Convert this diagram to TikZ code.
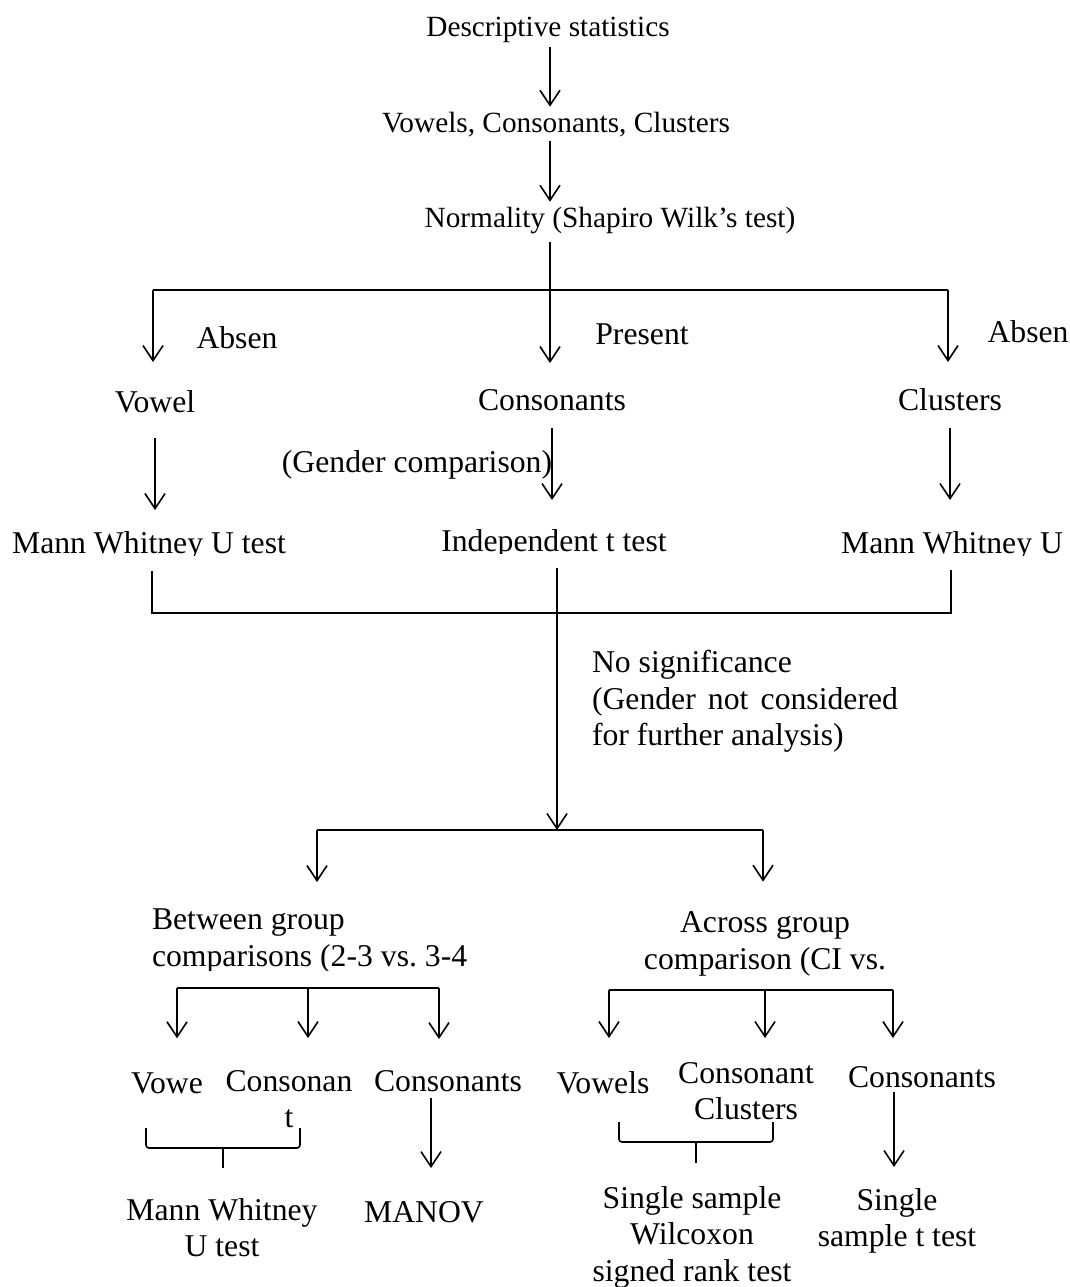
\documentclass[tikz,border=0pt]{standalone}
\usepackage{fontspec}
\setmainfont{Liberation Serif}
\usetikzlibrary{arrows.meta}
\frenchspacing

\begin{document}
\begin{tikzpicture}[x=1pt,y=-1pt,>={Straight Barb[length=15pt,width=20pt]},line width=1.6pt,
    every node/.style={inner sep=0pt,outer sep=0pt},
    big/.style={font=\fontsize{31.7}{36.8}\selectfont},
    small/.style={font=\fontsize{29.3}{33.7}\selectfont}]
    \useasboundingbox (0,0) rectangle (1070,1287);

    % top chain
    \node[small,anchor=base] (desc) at (548,37) {Descriptive statistics};
    \node[small,anchor=base] (vcc) at (556,132) {Vowels, Consonants, Clusters};
    \node[small,anchor=base] (norm) at (610,227) {Normality (Shapiro Wilk’s test)};
    \coordinate (spine) at (550,290);
    \coordinate (brL) at (153,290);
    \coordinate (brR) at (948,290);
    \draw[->,shorten <=4pt,shorten >=5pt] (desc.south -| spine) -- (vcc.north -| spine);
    \draw[->,shorten <=4pt,shorten >=5pt] (vcc.south -| spine) -- (norm.north -| spine);

    \node[big,anchor=base] (vowel) at (155,412) {Vowel};
    \node[big,anchor=base] (cons) at (552,410) {Consonants};
    \node[big,anchor=base] (clus) at (950,410) {Clusters};
    \node[big,anchor=base] (absL) at (237,348) {Absen};
    \node[big,anchor=base] (pres) at (642,344) {Present};
    \node[big,anchor=base] (absR) at (1028,342) {Absen};
    \draw (brL) -- (brR);
    \draw[->,shorten <=9pt,shorten >=26pt] (norm.south -| spine) -- (cons.north -| spine);
    \draw[->,shorten >=28pt] (brL) -- (vowel.north -| brL);
    \draw[->,shorten >=26pt] (brR) -- (clus.north -| brR);

    % gender level (text boxes cut off at the bottom)
    \node[big,anchor=base] (gend) at (417,472) {(Gender comparison)};
    \begin{scope}
        \clip (0,0) rectangle (1070,555);
        \node[big,anchor=base] (mwL) at (149,553) {Mann Whitney U test};
        \node[big,anchor=base] (mwR) at (952,553) {Mann Whitney U};
    \end{scope}
    \begin{scope}
        \clip (0,0) rectangle (1070,553);
        \node[big,anchor=base] (indep) at (554,551) {Independent t test};
    \end{scope}
    \draw[->,shorten <=26pt,shorten >=21pt] (vowel.south) -- (vowel.south |- mwL.north);
    \draw[->,shorten <=18pt,shorten >=29pt] (cons.south) -- (cons.south |- indep.north);
    \draw[->,shorten <=18pt,shorten >=31pt] (clus.south) -- (clus.south |- mwR.north);

    \coordinate (mgL) at (152,613);
    \coordinate (mgR) at (951,613);
    \coordinate (mg) at (557,613);
    \coordinate (split) at (557,830);
    \draw[shorten <=11pt,shorten >=10pt] (mwL.south -| mgL) -- (mgL) -- (mgR) -- (mwR.south -| mgR);
    \draw[->,shorten <=10pt] (indep.south -| mg) -- (split);
    \node[big,anchor=north west,align=left] (nosig) at (592,650) {No significance\\\makebox[306pt][s]{(Gender not considered}\\for further analysis)};

    % group comparisons
    \coordinate (spL) at (317,830);
    \coordinate (spR) at (763,830);
    \draw (spL) -- (spR);
    \begin{scope}
        \clip (0,0) rectangle (1070,970);
        \node[big,anchor=north west,align=left] (between) at (152,909) {Between group\\comparisons (2-3 vs. 3-4};
    \end{scope}
    \node[big,anchor=north,align=center] (across) at (765,911.6) {Across group\\comparison (CI vs.};
    \draw[->,shorten >=27pt] (spL) -- (between.north -| spL);
    \draw[->,shorten >=30pt] (spR) -- (across.north -| spR);

    \coordinate (bgL) at (177,988);
    \coordinate (bgM) at (308,988);
    \coordinate (bgR) at (439,988);
    \draw (bgL) -- (bgR);
    \node[big,anchor=base] (vowe) at (167,1093) {Vowe};
    \node[big,anchor=north,align=center] (consT) at (289,1070) {Consonan\\t};
    \node[big,anchor=base] (consB) at (448,1091) {Consonants};
    \draw[->,shorten >=34pt] (bgL) -- (vowe.north -| bgL);
    \draw[->,shorten >=32pt] (bgM) -- (consT.north -| bgM);
    \draw[->,shorten >=31pt] (bgR) -- (consB.north -| bgR);

    \coordinate (agL) at (609,990);
    \coordinate (agM) at (765,990);
    \coordinate (agR) at (893,990);
    \draw (agL) -- (agR);
    \node[big,anchor=base] (vowR) at (603,1093) {Vowels};
    \node[big,anchor=north,align=center] (consCl) at (746,1062) {Consonant\\Clusters};
    \node[big,anchor=base] (consR) at (922,1087) {Consonants};
    \draw[->,shorten >=33pt] (agL) -- (vowR.north -| agL);
    \draw[->,shorten >=24pt] (agM) -- (consCl.north -| agM);
    \draw[->,shorten >=28pt] (agR) -- (consR.north -| agR);

    % braces
    \draw[rounded corners=3pt] (146,1128) -- (146,1148) -- (300,1148) -- (300,1128);
    \draw (223,1148) -- (223,1168);
    \draw[rounded corners=3pt] (619,1122) -- (619,1142) -- (773,1142) -- (773,1122);
    \draw (696,1142) -- (696,1163);

    % tests
    \node[big,anchor=north,align=center] (mwB) at (222,1198) {Mann Whitney\\U test};
    \node[big,anchor=base] (manov) at (424,1222) {MANOV};
    \node[big,anchor=north,align=center] (wilc) at (692,1186) {Single sample\\Wilcoxon\\signed rank test};
    \node[big,anchor=north,align=center] (sst) at (897,1188) {Single\\sample t test};
    \coordinate (colM) at (431,0);
    \coordinate (colS) at (894,0);
    \draw[->,shorten <=7pt,shorten >=33pt] (consB.south -| colM) -- (manov.north -| colM);
    \draw[->,shorten <=5pt,shorten >=21pt] (consR.south -| colS) -- (sst.north -| colS);
\end{tikzpicture}
\end{document}
